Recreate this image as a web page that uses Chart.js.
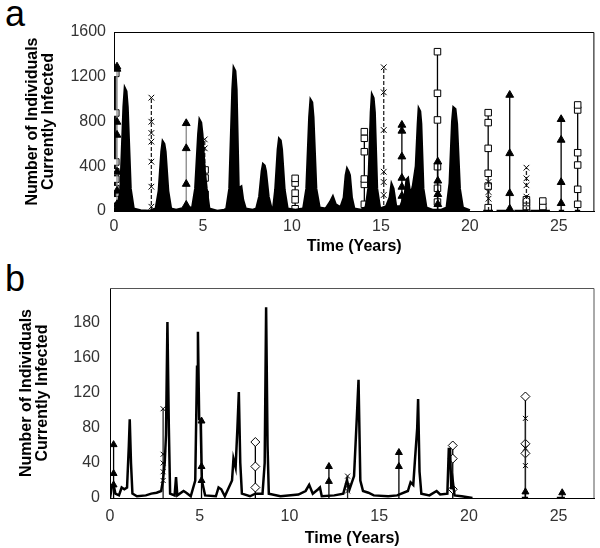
<!DOCTYPE html>
<html>
<head>
<meta charset="utf-8">
<script src="https://cdn.jsdelivr.net/npm/chart.js@4"></script>
<style>
  body { margin:0; background:#fff; width:600px; height:548px; position:relative; overflow:hidden; font-family:"Liberation Sans", Arial, sans-serif; }
  .letter { position:absolute; left:5px; font-size:36px; line-height:1; color:#000; }
  #wrapA { position:absolute; left:0; top:0; }
  #wrapB { position:absolute; left:0; top:262px; }
</style>
</head>
<body>
<div class="letter" style="top:-4px">a</div>
<div class="letter" style="top:261px">b</div>
<div id="wrapA"><canvas id="chartA" width="600" height="262"></canvas></div>
<div id="wrapB"><canvas id="chartB" width="600" height="286"></canvas></div>
<script>
// shared axis values
const xTicks = [0, 5, 10, 15, 20, 25]
const yTicksA = [0, 400, 800, 1200, 1600]
const yLabelsA = ['0', '400', '800', '1200', '1600']
const yTicksB = [0, 40, 80, 120, 160, 200, 240]
const yLabelsB = ['0', '40', '80', '120', '160', '180', '']

// panel a - main trace [years, individuals]
const traceA = [
  [0,30],[0.2,20],[0.37,200],[0.54,930],[0.61,1097],[0.69,1070],[0.76,930],[0.93,200],[1.1,20],[1.5,5],[2.0,0],
  [2.35,20],[2.52,180],[2.67,530],[2.74,620],[2.82,600],[2.89,530],[3.04,180],[3.2,20],[3.5,10],[4.0,30],
  [4.4,30],[4.57,200],[4.74,690],[4.81,814],[4.89,790],[4.96,690],[5.1,350],[5.2,200],[5.35,20],[5.8,0],[6.2,10],
  [6.32,20],[6.49,200],[6.66,1085],[6.73,1276],[6.81,1250],[6.88,1085],[7.0,200],[7.15,217],[7.25,100],[7.4,20],[7.8,10],
  [8.0,20],[8.17,130],[8.31,355],[8.38,417],[8.46,405],[8.53,355],[8.68,130],[8.85,20],
  [8.95,20],[9.07,190],[9.21,550],[9.28,644],[9.36,630],[9.43,550],[9.58,190],[9.75,20],[10.2,10],[10.6,20],
  [10.65,30],[10.82,200],[10.98,840],[11.05,992],[11.13,970],[11.2,840],[11.36,200],[11.55,30],
  [11.9,20],[12.15,80],[12.3,128],[12.45,60],[12.65,40],
  [12.75,40],[12.92,120],[13.03,320],[13.1,375],[13.18,350],[13.25,320],[13.36,120],[13.5,20],[13.9,10],[14.1,30],
  [14.15,30],[14.3,200],[14.44,880],[14.5,1037],[14.58,1010],[14.65,880],[14.78,200],[14.95,20],
  [15.3,40],[15.5,120],[15.6,239],[15.7,200],[15.85,40],[16.1,40],[16.35,150],[16.45,280],[16.52,292],[16.6,200],[16.7,160],
  [16.8,220],[16.97,400],[17.08,780],[17.13,912],[17.2,890],[17.26,780],[17.38,200],[17.55,30],[17.9,10],[18.4,10],
  [18.7,30],[18.87,250],[19.01,800],[19.08,924],[19.18,910],[19.27,780],[19.43,200],[19.6,30],[20.0,5],
  [20.1,null],[20.75,0],[21.3,0],[21.4,null],[21.5,0],[22.3,0],[22.4,null],[22.5,0],[23.3,0],[23.35,null],
  [23.4,0],[24.5,0],[24.6,null],[25.0,0],[25.3,0],[25.4,null],[25.9,0],[26.2,0]
]

// panel a - marker columns
const sqA_t = [0.1, 5.12, 10.18, 14.07, 18.18, 21.03, 23.18, 24.1, 26.06]
const sqA_v = [
  [1230, 876, 438, 350, 285, 200, 100, 40],
  [367, 295, 150, 60, 20],
  [292, 250, 160, 100, 20],
  [709, 650, 530, 286, 238, 60],
  [1424, 1052, 814, 396, 203, 80],
  [879, 790, 560, 337, 223, 30],
  [100, 75, 40, 10],
  [89, 40, 5],
  [948, 903, 521, 411, 194, 60]
]
const triA_t = [0.17, 4.06, 16.18, 18.2, 22.24, 25.13]
const triA_v = [
  [1290, 1270, 796, 680, 350, 180, 60],
  [784, 560, 241, 54],
  [769, 716, 486, 295, 215, 134, 30],
  [441, 270, 150, 60],
  [1037, 515, 158, 20],
  [820, 635, 257, 69]
]
const crA_t = [2.1, 5.1, 15.16, 21.05, 23.18]
const crA_v = [
  [1013, 798, 697, 620, 441, 217, 38],
  [640, 560],
  [1285, 1061, 724, 351, 259, 143],
  [260, 170, 110],
  [387, 292, 230, 128]
]

// panel b - main trace
const traceB = [
  [0,0],[0.1,12],[0.2,15],[0.3,5],[0.5,3],[0.65,12],[0.8,10],[0.95,12],[1.05,60],[1.1,90],[1.17,40],[1.25,5],
  [1.5,2],[2.0,3],[2.3,5],[2.6,6],[2.85,8],[2.95,20],[3.05,40],[3.12,72],[3.2,201],[3.28,80],[3.35,5],
  [3.6,3],[3.68,24],[3.75,3],[4.1,8],[4.25,6],[4.5,2],[4.75,20],[4.85,150],[4.9,190],[4.97,90],[5.05,88],[5.12,20],
  [5.3,3],[5.9,2],[6.05,12],[6.2,10],[6.4,2],[6.8,20],[6.88,45],[7.0,35],[7.1,80],[7.18,121],[7.26,40],[7.35,5],
  [7.8,2],[8.1,5],[8.5,5],[8.62,40],[8.7,218],[8.78,60],[8.85,5],[9.5,2],[10.5,4],[10.9,8],[11.1,15],[11.3,5],
  [11.6,10],[11.7,12],[11.8,2],[12.5,3],[13.0,5],[13.2,20],[13.35,10],[13.6,25],[13.75,90],[13.85,135],[13.95,20],
  [14.1,8],[14.4,6],[14.7,3],[15.5,2],[16.0,3],[16.6,8],[16.75,18],[16.9,15],[17.0,45],[17.12,80],[17.17,113],
  [17.25,30],[17.35,5],[17.8,3],[18.2,8],[18.4,4],[18.8,5],[18.88,56],[18.95,56],[19.02,10],[19.1,20],[19.2,3],
  [19.6,2],[20.2,0],[20.3,null],[22.95,0],[23.3,0],[23.4,null],[24.9,0],[25.35,0]
]

// panel b - marker columns
const triB_t = [0.2, 5.1, 12.2, 16.1, 23.15, 25.2]
const triB_v = [[61, 28, 15], [88, 36, 20], [36, 19], [52, 36], [7], [6]]
const crB_t = [2.96, 13.24, 23.15]
const crB_v = [[102, 50, 40, 30, 20], [25, 14, 8], [91, 57, 37]]
const dmB_t = [8.1, 19.1, 23.15]
const dmB_v = [[64, 36, 12], [60, 45, 10], [116, 62, 51]]

const family = '"Liberation Sans", Arial, sans-serif'

const frame_box = {
  id: 'frameBox',
  afterDraw(chart, args, opts) {
    const a = chart.chartArea
    const ctx = chart.ctx
    ctx.save()
    ctx.strokeStyle = opts.color
    ctx.lineWidth = 1
    ctx.beginPath()
    ctx.moveTo(a.left, a.top + 0.5)
    ctx.lineTo(a.right - 0.5, a.top + 0.5)
    ctx.lineTo(a.right - 0.5, a.bottom)
    ctx.stroke()
    ctx.restore()
  }
}

function trace_set(trace, width, filled){
  return {
    data: trace.map(p => ({x: p[0], y: p[1]})),
    borderColor: '#000',
    backgroundColor: '#000',
    fill: filled ? 'origin' : false,
    borderWidth: width,
    pointRadius: 0,
    tension: 0,
    spanGaps: false
  }
}

function column_sets(ts, vs, style){
  return ts.map((t, i) => {
    const pts = [{x: t, y: 0}].concat(vs[i].slice().reverse().map(v => ({x: t, y: v})))
    return Object.assign({
      data: pts,
      borderWidth: 1.3,
      tension: 0,
      pointBorderColor: '#000',
      pointBorderWidth: 1,
      pointRadius: c => (c.raw && c.raw.y === 0) ? 0 : style.r
    }, style.ds, {borderColor: style.lines ? style.lines[i] : style.ds.borderColor})
  })
}

function draw_panel(id, datasets, yMax, yTicks, yLabels, lay){
  new Chart(document.getElementById(id), {
    type: 'line',
    data: { datasets: datasets },
    options: {
      responsive: false,
      animation: false,
      layout: { padding: { left: 0, right: 3, top: lay.top, bottom: lay.bottom } },
      plugins: { legend: { display: false }, tooltip: { enabled: false }, frameBox: { color: lay.frame } },
      scales: {
        x: {
          type: 'linear', min: 0, max: 27,
          grid: { display: false, drawTicks: false },
          border: { display: true, color: '#000', width: 1 },
          afterBuildTicks: s => { s.ticks = xTicks.map(v => ({value: v})) },
          ticks: { font: { size: 16, family: family }, color: '#333', padding: lay.xpad, maxRotation: 0 },
          title: { display: true, text: 'Time (Years)', color: '#000',
                   font: { size: 16, weight: 'bold', family: family, lineHeight: 1.15 }, padding: { top: 0, bottom: 0 } },
          afterFit: s => { s.height = lay.xh }
        },
        y: {
          type: 'linear', min: 0, max: yMax,
          grid: { display: false, drawTicks: false },
          border: { display: true, color: '#000', width: 1 },
          afterBuildTicks: s => { s.ticks = yTicks.map(v => ({value: v})) },
          ticks: { font: { size: 16, family: family }, color: '#333', padding: lay.ypad,
                   callback: v => yLabels[yTicks.indexOf(v)] },
          title: { display: true, text: ['Number of Individuals', 'Currently Infected'], color: '#000',
                   font: { size: 16, weight: 'bold', family: family, lineHeight: 1.0 }, padding: { top: lay.tpad, bottom: 0 } },
          afterFit: s => { s.width = lay.left }
        }
      }
    },
    plugins: [frame_box]
  })
}

const squareStyle = { r: 4.6, ds: { pointStyle: 'rect', pointBackgroundColor: '#fff', borderColor: '#000' } }
const triStyleA = { r: 4.5, ds: { pointStyle: 'triangle', pointBackgroundColor: '#000', borderColor: '#000' },
                    lines: ['#888', '#888', '#000', '#000', '#000', '#000'] }
const crossStyle = { r: 4, ds: { pointStyle: 'crossRot', borderColor: '#222', borderDash: [4, 2] } }

var setsA = [trace_set(traceA, 2.5, true)]
  .concat(column_sets(triA_t, triA_v, triStyleA))
  .concat(column_sets(crA_t, crA_v, crossStyle))
  .concat(column_sets(sqA_t, sqA_v, squareStyle))

draw_panel('chartA', setsA, 1600, yTicksA, yLabelsA,
  { top: 32, bottom: 6, left: 114, xh: 45, xpad: 6, ypad: 8, tpad: 25, frame: '#000' })

const triStyleB = { r: 4, ds: { pointStyle: 'triangle', pointBackgroundColor: '#000', borderColor: '#000' } }
const crossStyleB = { r: 3.5, ds: { pointStyle: 'crossRot', borderColor: '#222' } }
const diamondStyle = { r: 4.5, ds: { pointStyle: 'rectRot', pointBackgroundColor: '#fff', borderColor: '#000' } }

var setsB = [trace_set(traceB, 2.5, false)]
  .concat(column_sets(triB_t, triB_v, triStyleB))
  .concat(column_sets(crB_t, crB_v, crossStyleB))
  .concat(column_sets(dmB_t, dmB_v, diamondStyle))

draw_panel('chartB', setsB, 240, yTicksB, yLabelsB,
  { top: 26, bottom: 0, left: 110, xh: 50, xpad: 9, ypad: 10, tpad: 19, frame: '#555' })
</script>
</body>
</html>
